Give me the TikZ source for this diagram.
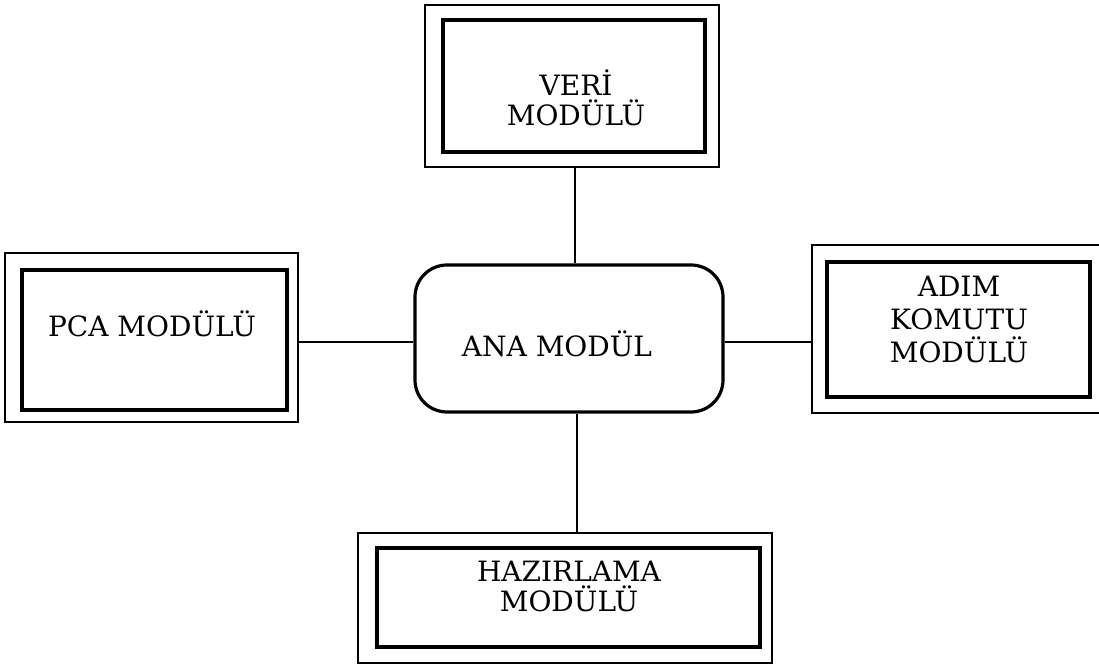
\documentclass[tikz,border=0pt]{standalone}
\usepackage{fontspec}
\setmainfont{DejaVu Serif}
\begin{document}
\begin{tikzpicture}[x=0.5pt,y=-0.5pt,
  outerbox/.style={draw, line width=1.4pt, inner sep=0pt},
  innerbox/.style={draw, line width=2pt, inner sep=0pt},
  mainbox/.style={draw, line width=1.6pt, rounded corners=16pt, inner sep=0pt},
  lbl/.style={align=center, font=\fontsize{14}{15}\selectfont, inner sep=0pt},
  conn/.style={line width=0.9pt}]
\useasboundingbox (0,0) rectangle (1099,667);
% VERI
\node[outerbox, minimum width=147pt, minimum height=81pt] (veriO) at (572,86) {};
\node[innerbox, minimum width=131pt, minimum height=66pt] (veriI) at (574,86) {};
\node[lbl] (veriT) at (576,98) {VERİ\\MODÜLÜ};
% PCA
\node[outerbox, minimum width=146.5pt, minimum height=84.5pt] (pcaO) at (151.5,337.5) {};
\node[innerbox, minimum width=132.5pt, minimum height=70pt] (pcaI) at (154.5,340) {};
\node[lbl] (pcaT) at (152,324) {PCA MODÜLÜ};
% ANA
\node[mainbox, minimum width=154pt, minimum height=73.5pt] (ana) at (569,338.5) {};
\node[lbl] (anaT) at (557,344) {ANA MODÜL};
% ADIM
\node[outerbox, minimum width=145pt, minimum height=84pt] (adimO) at (957,329) {};
\node[innerbox, minimum width=131.5pt, minimum height=67.5pt] (adimI) at (958.5,329.5) {};
\node[lbl, font=\fontsize{14}{16.5}\selectfont] (adimT) at (959,319) {ADIM\\KOMUTU\\MODÜLÜ};
% HAZIRLAMA
\node[outerbox, minimum width=207pt, minimum height=65pt] (hazO) at (565,598) {};
\node[innerbox, minimum width=191.5pt, minimum height=49.5pt] (hazI) at (568.5,597.5) {};
\node[lbl] (hazT) at (569,586) {HAZIRLAMA\\MODÜLÜ};
% connectors
\coordinate (c1) at (575,0);
\coordinate (c2) at (577,0);
\coordinate (r1) at (0,342);
\draw[conn] (veriO.south -| c1) -- (ana.north -| c1);
\draw[conn] (ana.south -| c2) -- (hazO.north -| c2);
\draw[conn] (pcaO.east |- r1) -- (ana.west |- r1);
\draw[conn] (ana.east |- r1) -- (adimO.west |- r1);
\end{tikzpicture}
\end{document}
